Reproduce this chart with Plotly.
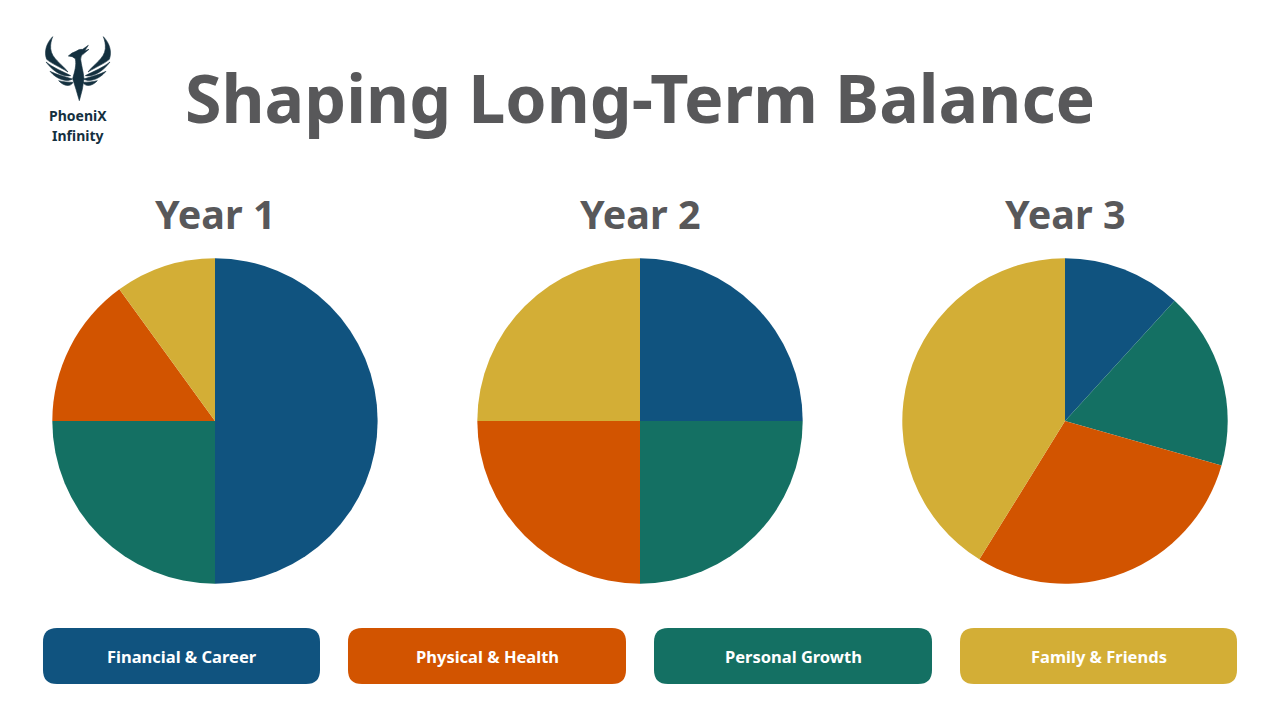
import plotly.graph_objects as go

W, H = 1280, 720
TITLE = "Shaping Long-Term Balance"
BRAND = ["PhoeniX", "Infinity"]
YEARS = ["Year 1", "Year 2", "Year 3"]
CATEGORIES = ["Financial & Career", "Personal Growth", "Physical & Health", "Family & Friends"]
YEAR1 = [50, 25, 15, 10]
YEAR2 = [25, 25, 25, 25]
YEAR3 = [2, 3, 5, 7]
COLORS = ["#10537F", "#147063", "#D25400", "#D3AE36"]
LEGEND_ORDER = ["Financial & Career", "Physical & Health", "Personal Growth", "Family & Friends"]


def px(x):
    return x / W


def py(y):
    return 1 - y / H


def path(cmds):
    out = []
    for c in cmds:
        if isinstance(c, str):
            out.append(c)
        else:
            out.append(f"{px(c[0]):.5f},{py(c[1]):.5f}")
    return " ".join(out)


def rrect(x0, y0, x1, y1, r):
    return path(["M", (x0 + r, y0), "L", (x1 - r, y0), "Q", (x1, y0), (x1, y0 + r),
                 "L", (x1, y1 - r), "Q", (x1, y1), (x1 - r, y1),
                 "L", (x0 + r, y1), "Q", (x0, y1), (x0, y1 - r),
                 "L", (x0, y0 + r), "Q", (x0, y0), (x0 + r, y0), "Z"])


fig = go.Figure()
centers = [215, 640, 1065]
for cx, vals, name in zip(centers, [YEAR1, YEAR2, YEAR3], YEARS):
    fig.add_trace(go.Pie(
        labels=CATEGORIES, values=vals, name=name, sort=False, direction="clockwise",
        rotation=0, textinfo="none", hole=0, showlegend=False,
        marker=dict(colors=COLORS, line=dict(width=0)),
        domain=dict(x=[px(cx - 162.7), px(cx + 162.7)], y=[py(583.7), py(258.3)]),
    ))

shapes, ann = [], []
boxes = [(43, 320), (348, 626), (654, 932), (960, 1237)]
cmap = dict(zip(CATEGORIES, COLORS))
for (x0, x1), cat in zip(boxes, LEGEND_ORDER):
    shapes.append(dict(type="path", xref="paper", yref="paper", path=rrect(x0, 628, x1, 684, 14),
                       fillcolor=cmap[cat], line=dict(width=0)))
    ann.append(dict(text=f"<b>{cat}</b>", x=px((x0 + x1) / 2), y=py(656), showarrow=False,
                    font=dict(family="Noto Sans", size=16.5, color="white"), xanchor="center", yanchor="middle"))

ann.append(dict(text=f"<b>{TITLE}</b>", x=px(640), y=py(97), showarrow=False,
                font=dict(family="Noto Sans", size=66.3, color="#58585A"), xanchor="center", yanchor="middle"))
for cx, y in zip(centers, YEARS):
    ann.append(dict(text=f"<b>{y}</b>", x=px(cx), y=py(214), showarrow=False,
                    font=dict(family="Noto Sans", size=39.5, color="#58585A"), xanchor="center", yanchor="middle"))
for t, y in zip(BRAND, [115.5, 135.5]):
    ann.append(dict(text=f"<b>{t}</b>", x=px(78), y=py(y), showarrow=False,
                    font=dict(family="Noto Sans", size=14, color="#14303F"), xanchor="center", yanchor="middle"))

LOGO = "#14303F"


def logo(cmds, mirror=False):
    conv = []
    for c in cmds:
        if isinstance(c, str):
            conv.append(c)
        else:
            x = 228 - c[0] if mirror else c[0]
            conv.append((40 + x / 3, 32 + c[1] / 3))
    shapes.append(dict(type="path", xref="paper", yref="paper", path=path(conv),
                       fillcolor=LOGO, line=dict(width=0.6, color=LOGO)))


FEATHERS = [
    ["M", (38, 14), "C", (18, 35), (12, 60), (20, 82), "C", (35, 95), (60, 105), (84, 120),
     "C", (65, 95), (35, 80), (32, 50), "C", (31, 35), (34, 25), (38, 14), "Z"],
    ["M", (18, 90), "C", (40, 108), (68, 118), (92, 131), "C", (72, 136), (42, 122), (18, 90), "Z"],
    ["M", (30, 118), "C", (50, 128), (75, 134), (97, 141), "C", (80, 152), (50, 142), (30, 118), "Z"],
    ["M", (56, 146), "C", (70, 150), (85, 150), (99, 151), "C", (92, 166), (70, 162), (56, 146), "Z"],
]
for f in FEATHERS:
    logo(f)
    logo(f, mirror=True)
# head, neck, tail
logo(["M", (85, 72), "Q", (95, 62), (108, 58), "Q", (118, 50), (128, 52), "L", (145, 40),
      "L", (134, 56), "L", (147, 52), "L", (130, 66), "Q", (122, 70), (122, 82),
      "C", (124, 100), (130, 118), (132, 140), "L", (127, 172), "L", (118, 206), "L", (108, 172),
      "L", (98, 140), "C", (104, 118), (110, 100), (106, 80), "Q", (98, 72), (85, 72), "Z"])

fig.update_layout(width=W, height=H, margin=dict(l=0, r=0, t=0, b=0), paper_bgcolor="white",
                  shapes=shapes, annotations=ann, showlegend=False)
fig.write_html("out.html", config=dict(displayModeBar=False),
               post_script="document.body.style.margin='0';")
